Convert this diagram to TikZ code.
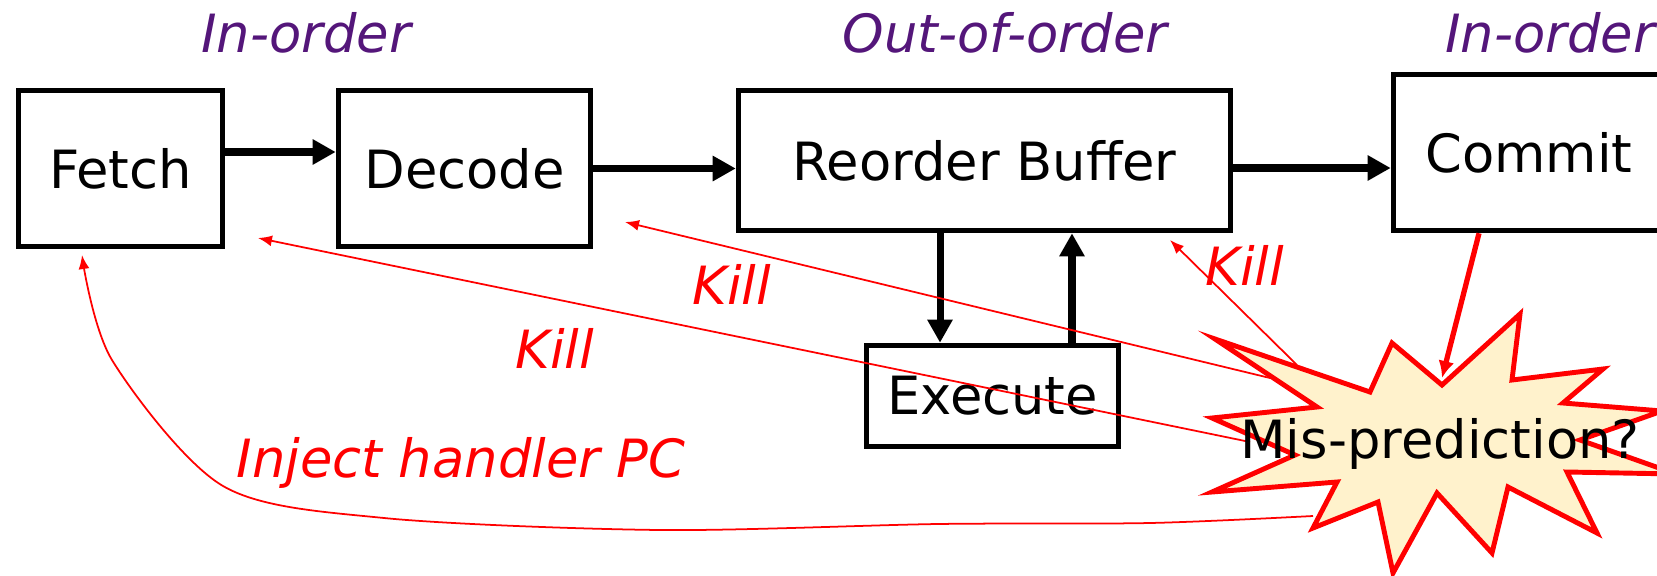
\documentclass[tikz,border=0pt]{standalone}
\usepackage{fontspec}
\setmainfont{DejaVu Sans}[ItalicFont={DejaVu Sans Oblique}]
\usetikzlibrary{arrows.meta, calc}
\definecolor{phasepurple}{RGB}{84,22,122}
\definecolor{burstfill}{RGB}{255,242,204}
\tikzset{
  stage/.style={draw=black, line width=3.2pt, minimum height=3.12cm, inner sep=0pt,
    font=\fontsize{30}{36}\selectfont},
  phase/.style={text=phasepurple, font=\fontsize{30}{36}\selectfont\itshape, anchor=base, inner sep=0pt},
  flow/.style={line width=4pt, -{Triangle[length=0.46cm,width=0.48cm]}},
  killarrow/.style={red, line width=1pt, -{Latex[length=0.28cm,width=0.22cm]}},
  killlabel/.style={text=red, font=\fontsize{30}{36}\selectfont\itshape, anchor=base, inner sep=0pt},
}

\begin{document}
\begin{tikzpicture}[x=0.02cm, y=-0.02cm]
  \clip (0,0) rectangle (1657,575);
  % phase titles
  \node[phase] (phase-front) at (306,52) {In-order};
  \node[phase] (phase-ooo) at (1005,52) {Out-of-order};
  \node[phase, anchor=base west] (phase-back) at (1445,52) {In-order};
  % pipeline stages (centres in px, 1px = 0.02cm)
  \node[stage, minimum width=4.08cm] (fetch) at (120.5,168.5) {Fetch};
  \node[stage, minimum width=5.04cm] (decode) at (464.5,168.5) {Decode};
  \node[stage, minimum width=9.84cm, minimum height=2.8cm] (rob) at (984.5,160.5) {Reorder Buffer};
  \node[stage, minimum width=5.42cm] (commit) at (1529,152.5) {Commit};
  \node[stage, minimum width=5.04cm, minimum height=2.02cm] (execute) at (992.5,396) {Execute};
  % starburst
  \filldraw[fill=burstfill, draw=red, line width=2.8pt, line join=miter]
    (1215,339) -- (1370,392) -- (1392,343) -- (1442,385) -- (1520,314) -- (1512,380)
    -- (1603,369) -- (1563,403) -- (1662,411) -- (1580,440) -- (1676,474) -- (1567,472)
    -- (1597,533) -- (1508,487) -- (1492,553) -- (1437,493) -- (1393,573) -- (1378,502)
    -- (1313,528) -- (1337,482) -- (1212,492) -- (1295,455) -- (1212,418) -- (1317,407) -- cycle;
  % main flow
  \draw[flow] ([yshift=0.33cm]fetch.east) -- ([yshift=0.33cm]decode.west);
  \draw[flow] (decode.east) -- (decode.east -| rob.west);
  \draw[flow] ([yshift=-0.15cm]rob.east) -- ([yshift=-0.15cm]rob.east -| commit.west);
  \draw[flow] ([xshift=-0.89cm]rob.south) -- ([xshift=-0.89cm]rob.south |- execute.north);
  \draw[flow] ([xshift=1.75cm]rob.south |- execute.north) -- ([xshift=1.75cm]rob.south);
  % mis-prediction check
  \coordinate (burst-top) at (1442,378);
  \draw[red, line width=3pt, -{Latex[length=0.34cm,width=0.32cm]}] ([xshift=-1cm]commit.south) -- (burst-top);
  % kill and redirect
  \coordinate (kill-src-rob) at (1297,365);
  \coordinate (kill-src-dec) at (1270,378);
  \coordinate (kill-src-fet) at (1250,442);
  \coordinate (inject-src) at (1313,516);
  \coordinate (kill-rob) at (1170,240);
  \coordinate (kill-dec) at (625,222);
  \coordinate (kill-fet) at (258,238);
  \coordinate (inject-fet) at (82,255);
  \draw[killarrow] (kill-src-rob) -- (kill-rob);
  \draw[killarrow] (kill-src-dec) -- (kill-dec);
  \draw[killarrow] (kill-src-fet) -- (kill-fet);
  \draw[killarrow] plot[smooth, tension=0.5] coordinates
    {(inject-src) (1150,523) (938,524) (660,530) (384,518) (223,486) (112,360) (inject-fet)};
  \node[killlabel] (kill-a) at (1245,285) {Kill};
  \node[killlabel] (kill-b) at (732,304) {Kill};
  \node[killlabel] (kill-c) at (555,368) {Kill};
  \node[killlabel] (inject-label) at (461,477) {Inject handler PC};
  \node[font=\fontsize{30}{36}\selectfont, anchor=base, inner sep=0pt] (mis) at (1440,458) {Mis-prediction?};
\end{tikzpicture}
\end{document}
